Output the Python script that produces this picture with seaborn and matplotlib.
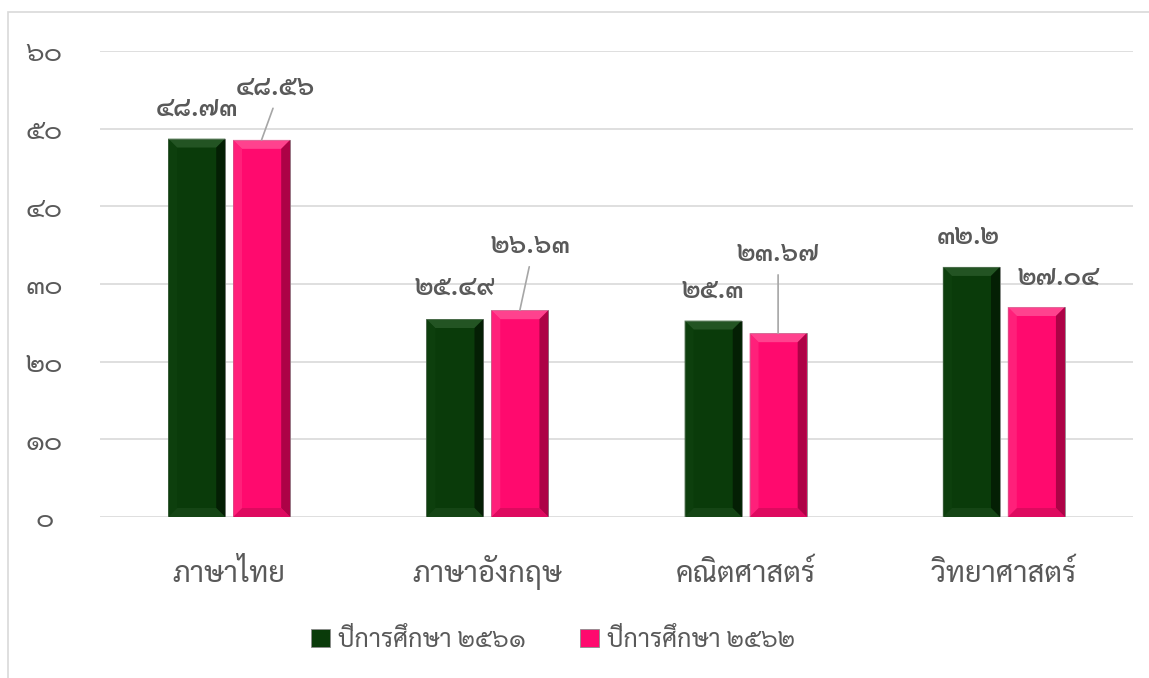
import numpy as np
import pandas as pd
import seaborn as sns
import matplotlib
matplotlib.use("Agg")
import matplotlib.pyplot as plt
from matplotlib import font_manager as fm
from matplotlib.patches import Rectangle, Polygon

# ---------------- data ----------------
categories = ["ภาษาไทย", "ภาษาอังกฤษ", "คณิตศาสตร์", "วิทยาศาสตร์"]
series_names = ["ปีการศึกษา ๒๕๖๑", "ปีการศึกษา ๒๕๖๒"]
values_2561 = [48.73, 25.49, 25.3, 32.2]
values_2562 = [48.56, 26.63, 23.67, 27.04]
y_ticks = [0, 10, 20, 30, 40, 50, 60]

THAI_DIGITS = str.maketrans("0123456789", "๐๑๒๓๔๕๖๗๘๙")
def thai_num(v):
    return f"{v:g}".translate(THAI_DIGITS)

# ---------------- font with Thai glyphs ----------------
def find_thai_fonts():
    try:
        from fontTools.ttLib import TTFont
    except Exception:
        return []
    names = []
    for f in fm.fontManager.ttflist:
        try:
            tt = TTFont(f.fname, fontNumber=0, lazy=True)
            cmap = tt.getBestCmap()
            if cmap and 0x0E01 in cmap and 0x0E52 in cmap:
                if f.name not in names:
                    names.append(f.name)
        except Exception:
            pass
    return names

thai_fonts = find_thai_fonts()
preferred = ["Sarabun", "Laksaman", "Niramit", "Loma", "Garuda"]
chosen = [p for p in preferred if p in thai_fonts][:1] or thai_fonts[:1]

sns.set_theme(style="white")
plt.rcParams["font.family"] = chosen + ["DejaVu Sans"]

GREEN = "#0A3B0A"
PINK = "#FF0A6E"
GRAY_TXT = "#595959"
GRID = "#D9D9D9"

df = pd.DataFrame({
    "subject": categories * 2,
    "score": values_2561 + values_2562,
    "year": [series_names[0]] * 4 + [series_names[1]] * 4,
})

fig = plt.figure(figsize=(11.49, 6.78), dpi=100)
W, H = 1149, 678
ax = fig.add_axes([100 / W, 1 - 517 / H, (1133 - 100) / W, (517 - 51) / H])

sns.barplot(data=df, x="subject", y="score", hue="year", palette=[GREEN, PINK],
            saturation=1, width=0.503, gap=0.12, ax=ax, errorbar=None,
            edgecolor="#8c8c8c", linewidth=0.6, legend=True)

ax.set_ylim(0, 60)
ax.set_xlim(-0.5, 3.5)
ax.set_yticks(y_ticks)
ax.set_yticklabels([thai_num(t) for t in y_ticks], fontsize=20, color=GRAY_TXT)
for lab in ax.get_yticklabels():
    lab.set_ha("center")
ax.tick_params(axis="y", length=0, pad=40)
ax.tick_params(axis="x", length=0, pad=47, labelsize=21, labelcolor=GRAY_TXT)
for lab in ax.get_xticklabels():
    lab.set_va("baseline")
ax.set_xlabel("")
ax.set_ylabel("")
ax.grid(axis="y", color=GRID, linewidth=1.2)
ax.set_axisbelow(True)
for s in ax.spines.values():
    s.set_visible(False)

# bevel shading on bars (derived from the drawn bar patches)
px_x = (1133 - 100) / 4.0
px_y = (517 - 51) / 60.0
d = 9
dx, dy = d / px_x, d / px_y
shades = {0: ("#2f5f2f", "#021402", "#1b4a1b", "#0f420f"),
          1: ("#ff5a9c", "#8a0036", "#d00a5a", "#ff2a80")}
for ci, cont in enumerate(ax.containers):
    top_c, right_c, bot_c, left_c = shades[ci]
    for bar in cont.patches:
        x0 = bar.get_x(); x1 = x0 + bar.get_width(); t = bar.get_height()
        polys = [
            ([(x0, t), (x1, t), (x1 - dx, t - dy), (x0 + dx, t - dy)], top_c),
            ([(x1, t), (x1, 0), (x1 - dx, dy), (x1 - dx, t - dy)], right_c),
            ([(x0, 0), (x1, 0), (x1 - dx, dy), (x0 + dx, dy)], bot_c),
            ([(x0, t), (x0 + dx, t - dy), (x0 + dx, dy), (x0, 0)], left_c),
        ]
        for pts, col in polys:
            ax.add_patch(Polygon(pts, closed=True, facecolor=col, edgecolor="none",
                                 alpha=0.7, zorder=bar.get_zorder() + 0.1))

# data labels
off_green = [(0, 30), (0, 32), (0, 30), (-3, 30)]
off_pink = [(14, 52), (11, 64), (0, 79), (22, 30)]
lead_pink = [True, True, True, False]
for cont, offs, leads in [(ax.containers[0], off_green, [False] * 4),
                          (ax.containers[1], off_pink, lead_pink)]:
    for bar, (ox, oy), lead in zip(cont.patches, offs, leads):
        x = bar.get_x() + bar.get_width() / 2
        top = bar.get_height()
        kw = {}
        if lead:
            kw["arrowprops"] = dict(arrowstyle="-", color="#A6A6A6", lw=1.2,
                                    shrinkA=3, shrinkB=0, relpos=(0.5, 0))
        ax.annotate(thai_num(top), xy=(x, top), xytext=(ox, oy),
                    textcoords="offset pixels", ha="center", va="center",
                    fontsize=19, fontweight="semibold", color=GRAY_TXT, **kw)

# legend
handles, labels = ax.get_legend_handles_labels()
ax.legend_.remove()
fig.legend(handles, labels, loc="center", bbox_to_anchor=(553 / W, 1 - 640 / H),
           ncol=2, frameon=False, fontsize=18, labelcolor=GRAY_TXT,
           handlelength=0.75, handleheight=0.75, handletextpad=0.3, columnspacing=2.2)

# chart frame (left & top edges visible)
fig.patches.append(Rectangle((8 / W, -0.1), 1.2, (1 - 12 / H) + 0.1,
                             transform=fig.transFigure, fill=False,
                             edgecolor=GRID, linewidth=1.2))

fig.savefig("out.png", dpi=100, facecolor="white")
